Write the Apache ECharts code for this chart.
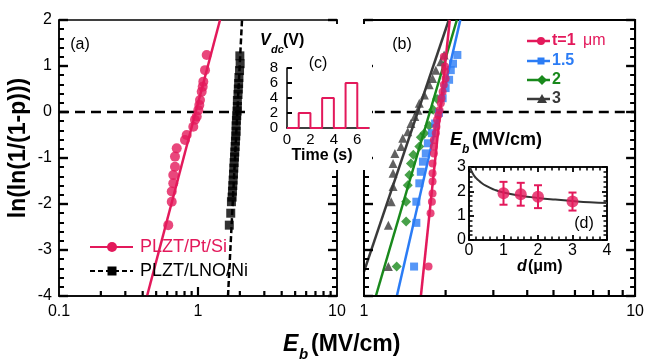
<!DOCTYPE html>
<html><head><meta charset="utf-8">
<script src="https://cdn.jsdelivr.net/npm/echarts@6/dist/echarts.min.js"></script>
<style>html,body{margin:0;padding:0;background:#fff}#c{width:647px;height:359px}</style>
</head><body><div id="c"></div>
<script>
// ---------- data ----------
// panel (a)
const aPtSiE = [1.155,1.123,1.092,1.081,1.063,1.034,1.022,1.005,0.979,0.951,0.925,0.829,0.806,0.703,0.683,0.683,0.664,0.664,0.647,0.647,0.611];
const aPtSiP = [1.24,0.91,0.66,0.55,0.44,0.26,0.15,0.04,-0.10,-0.17,-0.32,-0.50,-0.61,-0.79,-0.97,-1.19,-1.37,-1.55,-1.73,-1.95,-2.46];
const aLnoE = [2.00,2.01,1.99,1.97,1.96,1.95,1.94,1.92,1.92,1.91,1.90,1.89,1.88,1.88,1.87,1.86,1.85,1.84,1.83,1.82,1.81,1.80,1.79,1.78,1.77,1.76,1.74,1.72,1.68];
const aLnoP = [1.22,1.05,0.90,0.75,0.62,0.50,0.38,0.25,0.12,0.02,-0.08,-0.18,-0.30,-0.42,-0.52,-0.63,-0.75,-0.87,-0.98,-1.10,-1.22,-1.35,-1.48,-1.60,-1.72,-1.85,-1.95,-2.20,-2.46];
const aPtSiFitE = [0.43,1.44], aPtSiFitP = [-4,2];
const aLnoFitE = [1.644,2.073], aLnoFitP = [-4,2];
const aZeroE = [0.1,2.25];
// panel (b)
const b1E = [1.97,1.99,1.99,2.00,1.97,1.95,1.93,1.92,1.90,1.88,1.86,1.85,1.84,1.81,1.81,1.81,1.79,1.79,1.79,1.79,1.78,1.76,1.73];
const b1P = [1.20,0.99,0.88,0.73,0.59,0.44,0.30,0.19,0.04,-0.07,-0.17,-0.32,-0.46,-0.61,-0.75,-0.90,-1.12,-1.33,-1.51,-1.77,-1.95,-2.20,-3.36];
const b15E = [2.21,2.13,2.09,2.06,2.00,1.95,1.89,1.83,1.78,1.72,1.69,1.65,1.62,1.60,1.56,1.56,1.53];
const b15P = [1.24,1.05,0.91,0.70,0.52,0.30,-0.02,-0.25,-0.46,-0.68,-0.90,-1.08,-1.30,-1.55,-1.95,-2.41,-3.36];
const b2E = [1.86,1.80,1.74,1.67,1.62,1.60,1.52,1.49,1.47,1.45,1.43,1.43,1.32];
const b2P = [0.28,0.05,-0.30,-0.46,-0.55,-0.75,-0.93,-1.12,-1.37,-1.59,-1.95,-2.38,-3.36];
const b3E = [1.975,1.92,1.84,1.79,1.74,1.67,1.60,1.58,1.54,1.49,1.45,1.39,1.37,1.30,1.28,1.28,1.28,1.26,1.23,1.23];
const b3P = [1.24,1.09,0.91,0.73,0.59,0.37,0.19,0.04,-0.10,-0.25,-0.43,-0.57,-0.75,-0.90,-1.12,-1.33,-1.62,-1.95,-2.46,-3.36];
const b1FitE = [1.621,2.072], b1FitP = [-4,2];
const b15FitE = [1.322,2.266], b15FitP = [-4,2];
const b2FitE = [1.106,2.20], b2FitP = [-4,2];
const b3FitE = [1.0,2.055], b3FitP = [-3.47,2];
const bZeroE = [1.096,10];
// inset (c)
const cTime = [0,1,1,2,2,3,3,4,4,5,5,6,6,7];
const cVolt = [0,0,2,2,0,0,4,4,0,0,6,6,0,0];
// inset (d)
const dX = [1,1.5,2,3];
const dY = [1.92,1.88,1.78,1.58];
const dErr = [0.47,0.47,0.47,0.37];
const dCurveX = [0.03,0.1,0.2,0.3,0.5,0.75,1,1.5,2,2.5,3,3.5,4];
const dCurveY = [3.0,2.75,2.55,2.42,2.22,2.06,1.95,1.82,1.73,1.66,1.6,1.55,1.52];
// tick positions on log axes
const aTicksMinor = [0.2,0.3,0.4,0.5,0.6,0.7,0.8,0.9,2,3,4,5,6,7,8,9];
const aTicksMajor = [1];
const bTicksMinor = [2,3,4,5,6,7,8,9];
const cXLabels = [0,2,4,6];

// ---------- styling ----------
const PINK='#e3195b', BLUE='#2b7cf5', GREEN='#19891c', GRAY='#3a3a3a';
const FF = 'Liberation Sans, Arial, sans-serif';
const zip = (a,b) => a.map((v,i)=>[v,b[i]]);

function logTicks(xi, yi, vals, len, yv){
  return {type:'custom', xAxisIndex:xi, yAxisIndex:yi, silent:true, clip:false, z:8,
    data: vals.map(v=>[v,yv]),
    renderItem:(p,api)=>{const c=api.coord([api.value(0),api.value(1)]);
      return {type:'rect', shape:{x:c[0]-1.1,y:c[1]-len,width:2.2,height:len}, style:{fill:'#000'}};}};
}
function yAx(grid, pos, labels, w){
  return {type:'value', gridIndex:grid, position:pos, min:-4, max:2, interval:1, z:8,
    axisLine:{show:true, onZero:false, lineStyle:{color:'#000', width:w}}, splitLine:{show:false},
    axisTick:{show:true, inside:true, length:9, lineStyle:{color:'#000', width:2.4}},
    minorTick:{show:true, splitNumber:5, length:5, lineStyle:{color:'#000', width:2}},
    axisLabel:{show:labels, fontSize:16, color:'#000', fontFamily:FF, margin:7}};
}
function dAx(kind, pos, labels){
  const o = {type:'value', gridIndex:3, position:pos, z:9,
    axisLine:{show:true, onZero:false, lineStyle:{color:'#000', width:1.5}}, splitLine:{show:false},
    axisTick:{show:true, inside:true, length:5, lineStyle:{color:'#000', width:1.8}},
    minorTick:{show:true, splitNumber:5, length:3.5, lineStyle:{color:'#000', width:1.5}},
    axisLabel:{show:labels, fontSize:16, color:'#000', fontFamily:FF, margin:3}};
  if(kind==='x'){o.min=0;o.max=4;o.interval=1;} else {o.min=0;o.max=3;o.interval=1;}
  return o;
}
const logX = (grid,min,max,w)=>({type:'log', logBase:10, gridIndex:grid, min, max, z:8,
  axisLine:{show:true, onZero:false, lineStyle:{color:'#000', width:w}}, axisTick:{show:false}, splitLine:{show:false}, minorTick:{show:false},
  axisLabel:{fontSize:16, color:'#000', fontFamily:FF, margin:8}});

function txt(x,y,text,font,opt){
  return Object.assign({type:'text', x, y, z:20, style:Object.assign({text, font:font+' '+FF, fill:'#000', textAlign:'left', textVerticalAlign:'middle'}, (opt&&opt.style)||{})}, (opt&&opt.el)||{});
}

const fitLine = (xi,yi,E,P,color,dash)=>({type:'line', xAxisIndex:xi, yAxisIndex:yi, data:zip(E,P), showSymbol:false, symbol:'none', silent:true, z:2,
  lineStyle:{color, width:2.5, type: dash||'solid'}});
const pts = (xi,yi,E,P,color,symbol,size)=>({type:'scatter', xAxisIndex:xi, yAxisIndex:yi, data:zip(E,P), symbol, symbolSize:size, itemStyle:{color}, z:3});

const option = {
  animation:false,
  backgroundColor:'#fff',
  grid:[
    {left:59, top:20, width:278, height:276, show:true, borderColor:'#000', borderWidth:1.5, backgroundColor:'rgba(0,0,0,0)'},
    {left:364, top:20, width:275, height:276, show:true, borderColor:'#000', borderWidth:2, backgroundColor:'rgba(0,0,0,0)'},
    {left:287, top:68, width:82, height:60, show:false},
    {left:469, top:167, width:138, height:73, show:true, borderColor:'#000', borderWidth:1.5, backgroundColor:'#fff', z:8}
  ],
  xAxis:[
    logX(0,0.1,10,1.5),
    logX(1,1,10,2),
    {type:'value', gridIndex:2, min:0, max:7, interval:2, z:10,
      axisLine:{show:true, onZero:false, lineStyle:{color:'#000', width:1.5}}, axisTick:{show:false}, splitLine:{show:false},
      axisLabel:{fontSize:15, color:'#000', fontFamily:FF, margin:4, formatter:v=>cXLabels.indexOf(v)>=0?String(v):''}},
    dAx('x','bottom',true),
    dAx('x','top',false)
  ],
  yAxis:[
    yAx(0,'left',true,1.5),
    yAx(0,'right',false,1.5),
    yAx(1,'left',false,2),
    yAx(1,'right',false,2),
    {type:'value', gridIndex:2, min:0, max:8, interval:2, z:10,
      axisLine:{show:true, onZero:false, lineStyle:{color:'#000', width:1.5}}, splitLine:{show:false},
      axisTick:{show:true, inside:true, length:5, lineStyle:{color:'#000', width:2}},
      axisLabel:{fontSize:15, color:'#000', fontFamily:FF, margin:9, lineHeight:15}},
    dAx('y','left',true),
    dAx('y','right',false)
  ],
  series:[
    // panel a
    fitLine(0,0,aZeroE,[0,0],'#000',[10,6]),
    fitLine(0,0,aPtSiFitE,aPtSiFitP,PINK),
    pts(0,0,aPtSiE,aPtSiP,PINK,'circle',10),
    fitLine(0,0,aLnoFitE,aLnoFitP,'#000',[6,3]),
    pts(0,0,aLnoE,aLnoP,'#000','rect',9),
    logTicks(0,0,aTicksMinor,5,-4),
    logTicks(0,0,aTicksMajor,9,-4),
    // panel b
    fitLine(1,2,bZeroE,[0,0],'#000',[10,6]),
    fitLine(1,2,b3FitE,b3FitP,GRAY),
    fitLine(1,2,b2FitE,b2FitP,GREEN),
    fitLine(1,2,b15FitE,b15FitP,BLUE),
    fitLine(1,2,b1FitE,b1FitP,PINK),
    pts(1,2,b3E,b3P,GRAY,'triangle',9),
    pts(1,2,b2E,b2P,GREEN,'diamond',10),
    pts(1,2,b15E,b15P,BLUE,'rect',8),
    pts(1,2,b1E,b1P,PINK,'circle',8),
    logTicks(1,2,bTicksMinor,6,-4),
    // inset c
    {type:'line', xAxisIndex:2, yAxisIndex:4, data:zip(cTime,cVolt), showSymbol:false, symbol:'none', z:11,
      lineStyle:{color:PINK, width:2}},
    // inset d
    {type:'line', xAxisIndex:3, yAxisIndex:5, data:zip(dCurveX,dCurveY), showSymbol:false, symbol:'none', smooth:true, z:10,
      lineStyle:{color:'#333', width:2}},
    {type:'custom', xAxisIndex:3, yAxisIndex:5, z:11, data:dX.map((x,i)=>[x,dY[i],dErr[i]]),
      renderItem:(p,api)=>{const x=api.value(0),y=api.value(1),e=api.value(2);
        const t=api.coord([x,y+e]), b=api.coord([x,y-e]); const w=4;
        const st={stroke:PINK,lineWidth:2};
        return {type:'group', children:[
          {type:'line',shape:{x1:t[0],y1:t[1],x2:b[0],y2:b[1]},style:st},
          {type:'line',shape:{x1:t[0]-w,y1:t[1],x2:t[0]+w,y2:t[1]},style:st},
          {type:'line',shape:{x1:b[0]-w,y1:b[1],x2:b[0]+w,y2:b[1]},style:st}]};}},
    Object.assign(pts(3,5,dX,dY,PINK,'circle',12),{z:12})
  ],
  graphic:{elements:[
    {type:'rect', z:9, shape:{x:248,y:24,width:124,height:146}, style:{fill:'#fff'}},
    // panel labels
    txt(80,45,'(a)','16px',{style:{textAlign:'center'}}),
    txt(402,45,'(b)','16px',{style:{textAlign:'center'}}),
    txt(318,64,'(c)','16px',{style:{textAlign:'center'}}),
    txt(584,224,'(d)','16px',{style:{textAlign:'center'}}),
    // inset c titles
    txt(260,41,'V','italic bold 16px'),
    txt(271,50,'dc','italic bold 11px'),
    txt(283,41,'(V)','bold 16px'),
    txt(322,156,'Time (s)','bold 16px',{style:{textAlign:'center'}}),
    // inset d titles
    txt(450,140,'E','italic bold 18px'),
    txt(462,150,'b','italic bold 12px'),
    txt(472,140,'(MV/cm)','bold 18px'),
    txt(517,267,'d','italic bold 16px'),
    txt(528,267,'(\u03bcm)','bold 16px'),
    // main axis titles
    txt(283,345,'E','italic bold 23px'),
    txt(299,355,'b','italic bold 15px'),
    txt(311,345,'(MV/cm)','bold 23px'),
    txt(19,148,'ln(ln(1/(1-p)))','bold 23px',{style:{textAlign:'center'}, el:{rotation:Math.PI/2}}),
    // legend a
    {type:'line', z:20, shape:{x1:90,y1:247,x2:133,y2:247}, style:{stroke:PINK,lineWidth:2}},
    {type:'circle', z:20, shape:{cx:112,cy:247,r:5}, style:{fill:PINK}},
    txt(140,247,'PLZT/Pt/Si','18px',{style:{fill:PINK}}),
    {type:'line', z:20, shape:{x1:90,y1:271,x2:133,y2:271}, style:{stroke:'#000',lineWidth:2,lineDash:[5,3]}},
    {type:'rect', z:20, shape:{x:107.5,y:266.5,width:9,height:9}, style:{fill:'#000'}},
    txt(140,271,'PLZT/LNO/Ni','18px'),
    // legend b
    {type:'line', z:20, shape:{x1:527,y1:41,x2:550,y2:41}, style:{stroke:PINK,lineWidth:2.5}},
    {type:'circle', z:20, shape:{cx:541,cy:41,r:4}, style:{fill:PINK}},
    txt(552,41,'t=1 ','bold 16px',{style:{fill:PINK}}),
    txt(583,41,'\u03bcm','16px',{style:{fill:PINK}}),
    {type:'line', z:20, shape:{x1:527,y1:61,x2:550,y2:61}, style:{stroke:BLUE,lineWidth:2.5}},
    {type:'rect', z:20, shape:{x:537.5,y:57.5,width:7,height:7}, style:{fill:BLUE}},
    txt(552,61,'1.5','bold 16px',{style:{fill:BLUE}}),
    {type:'line', z:20, shape:{x1:527,y1:80,x2:550,y2:80}, style:{stroke:GREEN,lineWidth:2.5}},
    {type:'polygon', z:20, shape:{points:[[542,75],[547,80],[542,85],[537,80]]}, style:{fill:GREEN}},
    txt(552,80,'2','bold 16px',{style:{fill:GREEN}}),
    {type:'line', z:20, shape:{x1:527,y1:99,x2:550,y2:99}, style:{stroke:GRAY,lineWidth:2.5}},
    {type:'polygon', z:20, shape:{points:[[542,94],[547,103],[537,103]]}, style:{fill:GRAY}},
    txt(552,99,'3','bold 16px',{style:{fill:GRAY}})
  ]}
};
const chart = echarts.init(document.getElementById('c'), null, {renderer:'canvas'});
chart.setOption(option);
</script></body></html>
